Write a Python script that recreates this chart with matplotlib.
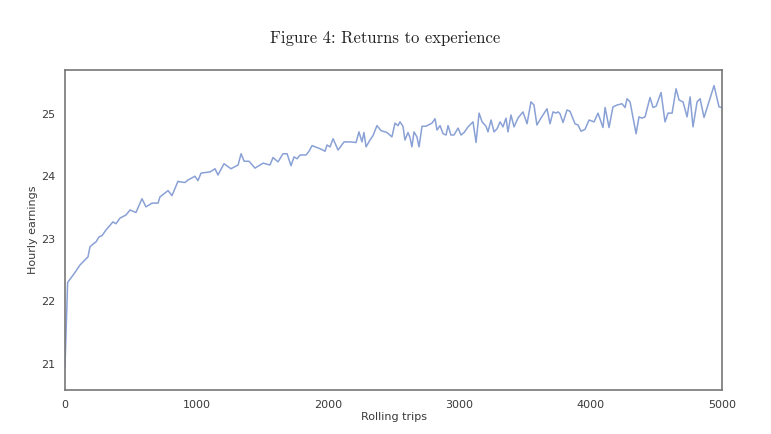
import matplotlib
matplotlib.use("Agg")
import matplotlib.pyplot as plt

trips = [0, 20, 76, 114, 152, 175, 190, 205, 236, 259, 282, 312, 365, 388, 418, 464, 495, 540,
         586, 616, 662, 708, 723, 784, 814, 860, 875, 913, 936, 989, 1012, 1035, 1104, 1142,
         1164, 1210, 1263, 1317, 1340, 1363, 1400, 1446, 1507, 1560, 1583, 1621, 1659, 1690,
         1720, 1743, 1766, 1789, 1834, 1857, 1880, 1941, 1979, 1994, 2017, 2040, 2078, 2124,
         2169, 2215, 2237, 2260, 2275, 2291, 2321, 2344, 2374, 2405, 2450, 2488, 2511, 2534,
         2549, 2572, 2587, 2610, 2625, 2640, 2656, 2678, 2694, 2717, 2747, 2793, 2816, 2831,
         2854, 2877, 2900, 2915, 2937, 2960, 2991, 3014, 3037, 3067, 3105, 3128, 3151, 3174,
         3204, 3219, 3242, 3265, 3288, 3311, 3333, 3356, 3371, 3394, 3417, 3447, 3485, 3516,
         3546, 3569, 3591, 3622, 3668, 3691, 3714, 3737, 3752, 3767, 3790, 3820, 3843, 3881,
         3904, 3927, 3957, 3988, 4026, 4056, 4094, 4110, 4140, 4170, 4201, 4239, 4262, 4277,
         4300, 4346, 4368, 4391, 4414, 4452, 4475, 4498, 4536, 4566, 4589, 4620, 4650, 4673,
         4703, 4734, 4757, 4779, 4810, 4833, 4863, 4893, 4939, 4977, 5000]

earnings = [20.95, 22.30, 22.46, 22.58, 22.66, 22.71, 22.87, 22.90, 22.95, 23.03, 23.05, 23.14,
            23.27, 23.24, 23.33, 23.38, 23.46, 23.42, 23.64, 23.51, 23.57, 23.57, 23.67, 23.77,
            23.69, 23.92, 23.91, 23.90, 23.94, 24.00, 23.93, 24.05, 24.07, 24.12, 24.02, 24.20,
            24.12, 24.18, 24.36, 24.24, 24.24, 24.13, 24.21, 24.18, 24.30, 24.23, 24.36, 24.36,
            24.17, 24.31, 24.28, 24.34, 24.34, 24.40, 24.49, 24.44, 24.40, 24.50, 24.47, 24.60,
            24.42, 24.55, 24.55, 24.54, 24.71, 24.55, 24.70, 24.47, 24.58, 24.65, 24.81, 24.73,
            24.70, 24.63, 24.85, 24.81, 24.87, 24.80, 24.58, 24.70, 24.62, 24.47, 24.71, 24.63,
            24.47, 24.80, 24.80, 24.85, 24.92, 24.74, 24.81, 24.68, 24.66, 24.81, 24.66, 24.66,
            24.77, 24.66, 24.70, 24.79, 24.87, 24.54, 25.01, 24.87, 24.80, 24.71, 24.90, 24.71,
            24.76, 24.87, 24.79, 24.93, 24.71, 24.98, 24.79, 24.93, 25.03, 24.84, 25.19, 25.14,
            24.82, 24.93, 25.08, 24.84, 25.03, 25.01, 25.03, 25.00, 24.86, 25.06, 25.04, 24.84,
            24.82, 24.72, 24.75, 24.90, 24.87, 25.01, 24.78, 25.10, 24.78, 25.11, 25.14, 25.16,
            25.10, 25.24, 25.19, 24.68, 24.95, 24.93, 24.95, 25.26, 25.10, 25.12, 25.34, 24.87,
            25.01, 25.01, 25.40, 25.22, 25.19, 24.95, 25.27, 24.79, 25.19, 25.24, 24.94, 25.14,
            25.45, 25.11, 25.10]

xticks = [0, 1000, 2000, 3000, 4000, 5000]
yticks = [21, 22, 23, 24, 25]

fig = plt.figure(figsize=(7.71, 4.34), dpi=100)
ax = fig.add_axes([0.0843, 0.1014, 0.8522, 0.7373])
ax.plot(trips, earnings, color="#8aa1d6", linewidth=1.1)
ax.set_xlim(0, 5000)
ax.set_ylim(20.58, 25.70)
ax.set_xticks(xticks)
ax.set_yticks(yticks)
ax.tick_params(axis="both", length=0, labelsize=8, colors="#3a3a3a", pad=7)
for s in ax.spines.values():
    s.set_color("#777777")
    s.set_linewidth(1.2)
ax.set_xlabel("Rolling trips", fontsize=8, color="#3a3a3a", labelpad=2)
ax.set_ylabel("Hourly earnings", fontsize=8, color="#3a3a3a", labelpad=2)
fig.text(0.5, 0.912, "Figure 4: Returns to experience", ha="center", va="center",
         fontsize=12, family="cmr10", color="#222222")
fig.savefig("out.png", dpi=100)
